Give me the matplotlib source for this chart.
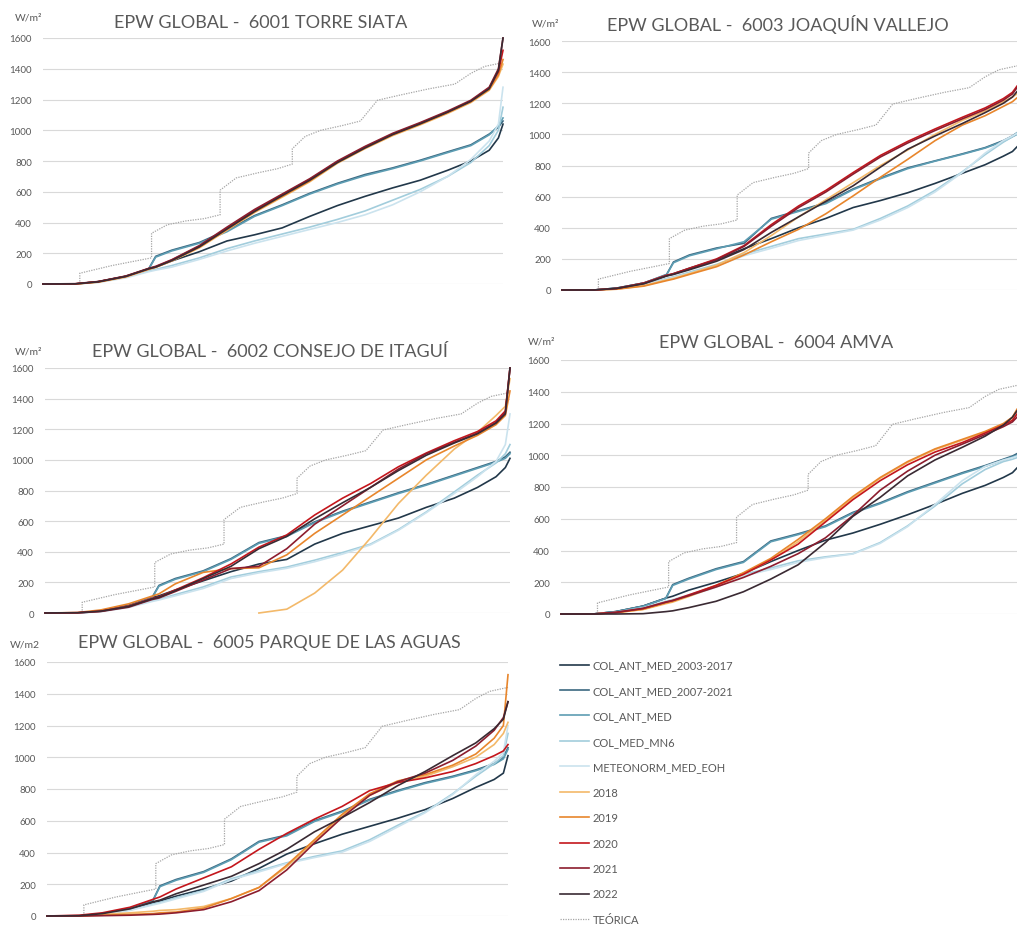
import matplotlib
matplotlib.use('Agg')
import matplotlib.pyplot as plt
import numpy as np

plt.rcParams['font.family'] = ['Lato', 'DejaVu Sans']

# shared x positions (% of the sorted hours) for every series
XP = [0, 7, 12, 18, 23, 24.5, 28, 34, 40, 46, 52, 58, 64, 70, 76, 82, 88, 93, 97, 99, 100]

SERIES = ['COL_ANT_MED_2003-2017', 'COL_ANT_MED_2007-2021', 'COL_ANT_MED', 'COL_MED_MN6',
          'METEONORM_MED_EOH', '2018', '2019', '2020', '2021', '2022']
COLORS = ['#22384a', '#3b6880', '#5d9db3', '#a2cddc', '#cbe3ee',
          '#f3b96a', '#e8862c', '#c4161c', '#8c1d2e', '#3a2a33']

# theoretical curve (shared by all stations)
TEO_X = [8, 8, 15, 23.6, 23.6, 27, 31, 35, 38.5, 38.5, 42, 47, 51, 54.2, 54.2, 57, 60.4, 65, 69,
         72.7, 77.8, 84, 89.5, 93, 96, 100]
TEO_Y = [0, 70, 120, 170, 330, 385, 410, 425, 450, 610, 690, 725, 750, 780, 880, 960, 1000, 1030,
         1060, 1195, 1230, 1270, 1300, 1370, 1415, 1440]

nan = np.nan

torre_siata = [
    [0, 0, 15, 50, 95, 110, 150, 210, 280, 320, 365, 440, 510, 570, 625, 675, 740, 800, 870, 950, 1040],
    [0, 0, 15, 50, 100, 180, 220, 270, 350, 445, 515, 590, 655, 712, 755, 805, 860, 905, 975, 1020, 1060],
    [0, 0, 14, 48, 98, 175, 215, 265, 340, 440, 510, 585, 650, 705, 750, 800, 855, 900, 970, 1030, 1080],
    [0, 0, 12, 45, 85, 95, 120, 170, 230, 280, 325, 370, 420, 475, 545, 615, 700, 790, 900, 1000, 1150],
    [0, 0, 10, 40, 80, 90, 110, 160, 215, 265, 310, 355, 400, 450, 515, 600, 700, 810, 930, 1040, 1280],
    [0, 0, 12, 45, 95, 108, 150, 235, 350, 465, 565, 665, 785, 880, 965, 1035, 1110, 1180, 1260, 1350, 1430],
    [0, 0, 13, 48, 98, 110, 152, 240, 355, 470, 570, 670, 790, 885, 970, 1040, 1115, 1185, 1265, 1360, 1460],
    [0, 1, 15, 50, 100, 112, 156, 245, 362, 478, 580, 680, 795, 890, 975, 1045, 1120, 1190, 1275, 1380, 1520],
    [0, 2, 16, 52, 102, 115, 158, 250, 370, 485, 585, 685, 800, 895, 980, 1050, 1125, 1195, 1280, 1400, 1600],
    [0, 1, 14, 49, 99, 110, 152, 242, 358, 472, 575, 675, 790, 885, 972, 1042, 1118, 1188, 1270, 1390, 1600],
]

joaquin_vallejo = [
    [0, 0, 12, 45, 92, 105, 140, 195, 265, 330, 400, 460, 530, 575, 625, 685, 750, 805, 860, 890, 920],
    [0, 0, 12, 45, 100, 180, 225, 270, 300, 460, 510, 560, 650, 720, 785, 830, 875, 915, 960, 990, 1010],
    [0, 0, 12, 45, 98, 175, 220, 265, 310, 455, 505, 555, 645, 715, 780, 828, 872, 912, 955, 985, 1000],
    [0, 0, 8, 35, 75, 85, 115, 165, 230, 280, 330, 360, 390, 460, 540, 640, 760, 870, 950, 985, 1010],
    [0, 0, 7, 32, 70, 80, 108, 155, 220, 268, 318, 352, 385, 450, 530, 630, 755, 880, 960, 990, 1005],
    [0, 0, 6, 28, 65, 75, 105, 160, 240, 350, 470, 580, 690, 800, 900, 1000, 1090, 1150, 1210, 1240, 1260],
    [0, 0, 5, 25, 60, 70, 100, 150, 225, 310, 390, 490, 605, 725, 840, 960, 1060, 1120, 1180, 1210, 1235],
    [0, 0, 10, 45, 95, 105, 140, 200, 285, 420, 540, 640, 755, 865, 955, 1035, 1110, 1170, 1230, 1270, 1310],
    [0, 0, 10, 42, 92, 102, 135, 195, 280, 410, 530, 630, 745, 855, 945, 1025, 1100, 1160, 1220, 1260, 1300],
    [0, 0, 10, 40, 90, 100, 130, 185, 260, 370, 470, 570, 670, 790, 905, 990, 1070, 1140, 1200, 1240, 1275],
]

consejo_itagui = [
    [0, 0, 15, 50, 100, 112, 150, 210, 270, 320, 350, 450, 520, 570, 620, 690, 750, 820, 890, 950, 1010],
    [0, 0, 12, 45, 100, 180, 225, 275, 355, 460, 505, 595, 665, 725, 785, 840, 900, 950, 990, 1020, 1050],
    [0, 0, 12, 45, 98, 175, 220, 270, 350, 455, 500, 590, 660, 720, 780, 835, 895, 945, 985, 1010, 1040],
    [0, 0, 10, 40, 80, 90, 120, 170, 235, 270, 300, 345, 395, 450, 545, 660, 790, 900, 980, 1040, 1100],
    [0, 0, 8, 36, 75, 85, 112, 160, 225, 262, 292, 335, 385, 445, 540, 655, 780, 890, 990, 1100, 1300],
    [nan, nan, nan, nan, nan, nan, nan, nan, nan, 0, 25, 130, 280, 490, 715, 900, 1070, 1180, 1290, 1350, 1530],
    [0, 3, 20, 60, 110, 125, 190, 265, 290, 295, 380, 520, 640, 760, 880, 1000, 1090, 1160, 1230, 1290, 1450],
    [0, 2, 12, 45, 95, 105, 150, 230, 320, 430, 510, 640, 750, 845, 955, 1045, 1125, 1185, 1255, 1320, 1600],
    [0, 1, 10, 38, 88, 98, 140, 215, 290, 305, 420, 580, 700, 820, 940, 1040, 1115, 1175, 1245, 1310, 1600],
    [0, 2, 12, 42, 92, 102, 145, 225, 305, 420, 500, 615, 720, 820, 930, 1030, 1110, 1170, 1240, 1300, 1600],
]

amva = [
    [0, 0, 15, 50, 100, 112, 150, 200, 255, 330, 400, 465, 510, 565, 625, 690, 760, 810, 860, 890, 920],
    [0, 0, 15, 50, 100, 185, 225, 285, 330, 460, 505, 555, 640, 700, 770, 830, 890, 935, 975, 995, 1010],
    [0, 0, 14, 48, 98, 180, 220, 280, 325, 455, 500, 550, 635, 695, 765, 825, 885, 930, 970, 990, 1000],
    [0, 0, 10, 40, 80, 90, 120, 175, 250, 290, 335, 360, 380, 450, 555, 680, 820, 910, 960, 975, 985],
    [0, 0, 8, 36, 75, 85, 112, 168, 240, 280, 325, 355, 378, 445, 550, 690, 840, 930, 970, 985, 995],
    [0, 0, 8, 28, 65, 75, 110, 175, 250, 340, 455, 590, 730, 855, 955, 1035, 1095, 1145, 1195, 1235, 1280],
    [0, 0, 8, 30, 70, 80, 115, 180, 260, 350, 470, 600, 740, 860, 960, 1040, 1100, 1150, 1200, 1240, 1290],
    [0, 0, 10, 35, 75, 85, 120, 180, 250, 340, 440, 580, 720, 840, 940, 1020, 1080, 1140, 1190, 1220, 1260],
    [0, 0, 10, 35, 75, 85, 115, 170, 230, 300, 380, 480, 620, 780, 900, 1000, 1070, 1130, 1180, 1210, 1240],
    [0, 0, 0, 2, 15, 20, 40, 80, 140, 220, 310, 450, 615, 735, 870, 970, 1050, 1120, 1190, 1240, 1280],
]

parque_aguas = [
    [0, 0, 12, 40, 85, 95, 125, 170, 220, 300, 390, 455, 515, 565, 615, 670, 740, 810, 860, 900, 1010],
    [0, 0, 15, 50, 100, 190, 230, 280, 360, 470, 510, 600, 660, 735, 790, 840, 880, 920, 960, 1000, 1060],
    [0, 0, 14, 48, 98, 185, 225, 275, 355, 465, 505, 595, 655, 730, 785, 835, 875, 915, 955, 990, 1050],
    [0, 0, 10, 38, 75, 85, 115, 160, 235, 285, 335, 375, 410, 480, 570, 655, 770, 880, 960, 1010, 1150],
    [0, 0, 8, 35, 70, 80, 108, 155, 228, 278, 330, 368, 402, 470, 560, 650, 765, 890, 975, 1030, 1200],
    [0, 0, 10, 20, 30, 35, 40, 60, 110, 180, 310, 470, 630, 760, 840, 880, 940, 1000, 1080, 1150, 1220],
    [0, 0, 5, 10, 15, 20, 25, 50, 110, 180, 320, 480, 640, 770, 850, 890, 950, 1020, 1120, 1200, 1520],
    [0, 5, 20, 55, 105, 120, 170, 240, 310, 420, 520, 610, 690, 790, 840, 870, 910, 960, 1010, 1040, 1080],
    [0, 0, 2, 5, 10, 12, 20, 40, 90, 160, 290, 460, 620, 760, 845, 900, 980, 1070, 1170, 1250, 1350],
    [0, 2, 15, 45, 90, 100, 140, 195, 250, 330, 420, 530, 620, 715, 820, 910, 1010, 1090, 1180, 1240, 1350],
]

STATIONS = ['6001 TORRE SIATA', '6003 JOAQUÍN VALLEJO', '6002 CONSEJO DE ITAGUÍ',
            '6004 AMVA', '6005 PARQUE DE LAS AGUAS']
PANEL_DATA = [torre_siata, joaquin_vallejo, consejo_itagui, amva, parque_aguas]
UNITS = ['W/m²', 'W/m²', 'W/m²', 'W/m²', 'W/m2']

W, H = 1017, 928
# panel boxes in pixels: left, right, y of 0, y of 1600
BOXES = [(43, 503, 285, 39), (562, 1017, 291, 42), (45, 510, 614, 369),
         (561, 1017, 615, 361), (47, 508, 917, 663)]
TITLE_POS = [(261, 23), (778, 24), (270, 352), (776, 343), (269, 643)]
UNIT_POS = [(15, 18), (532, 24), (15, 352), (528, 342), (10, 645)]

TXT = '#595959'

fig = plt.figure(figsize=(W / 100, H / 100), dpi=100)

handles = []
for k, (box, rows) in enumerate(zip(BOXES, PANEL_DATA)):
    x0, x1, y0, y1 = box
    ax = fig.add_axes([x0 / W, 1 - y0 / H, (x1 - x0) / W, (y0 - y1) / H])
    ax.set_xlim(0, 100)
    ax.set_ylim(0, 1600)
    ax.set_yticks(range(0, 1601, 200))
    ax.set_xticks([])
    ax.grid(axis='y', color='#d9d9d9', lw=0.8)
    ax.set_axisbelow(True)
    for s in ax.spines.values():
        s.set_visible(False)
    ax.tick_params(axis='y', length=0, pad=8, labelsize=7, labelcolor=TXT)

    teo, = ax.plot(TEO_X, TEO_Y, color='#a6a6a6', lw=0.9, ls=(0, (1, 1)), clip_on=False)
    hs = []
    for name, col, ys in zip(SERIES, COLORS, rows):
        ln, = ax.plot(XP, ys, color=col, lw=1.2, clip_on=False, label=name)
        hs.append(ln)
    if k == 0:
        handles = hs + [teo]

    tx, ty = TITLE_POS[k]
    fig.text(tx / W, 1 - ty / H, 'EPW GLOBAL -  ' + STATIONS[k], ha='center', va='center',
             fontsize=13, color=TXT)
    ux, uy = UNIT_POS[k]
    fig.text(ux / W, 1 - uy / H, UNITS[k], ha='left', va='center', fontsize=7.5, color=TXT)

fig.legend(handles, SERIES + ['TEÓRICA'], loc='upper left', bbox_to_anchor=(556 / W, 1 - 656 / H),
           frameon=False, fontsize=8, handlelength=2.6, handletextpad=0.3, labelspacing=1.3,
           labelcolor=TXT, borderaxespad=0)

fig.savefig('out.png', dpi=100)
